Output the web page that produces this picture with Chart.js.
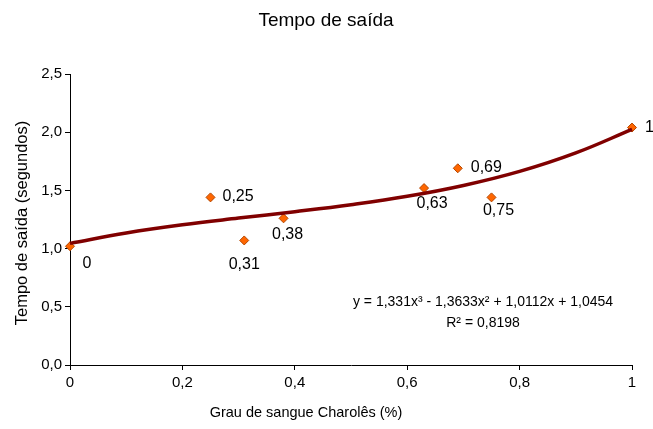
<!DOCTYPE html>
<html>
<head>
<meta charset="utf-8">
<script src="https://cdn.jsdelivr.net/npm/chart.js@4/dist/chart.umd.min.js"></script>
<style>
  html, body { margin: 0; padding: 0; background: #fff; }
  #wrap { width: 653px; height: 429px; }
</style>
</head>
<body>
<div id="wrap"><canvas id="chart"></canvas></div>
<script>
// observed points (grau de sangue vs tempo de saida)
var grau = [0, 0.25, 0.31, 0.38, 0.63, 0.69, 0.75, 1];
var tempo = [1.02, 1.44, 1.07, 1.26, 1.52, 1.69, 1.44, 2.04];
var pointLabels = ['0', '0,25', '0,31', '0,38', '0,63', '0,69', '0,75', '1'];

// trend line
var trendX = [0, 0.1, 0.2, 0.3, 0.4, 0.5, 0.6, 0.7, 0.8, 0.9, 1];
var trendY = [1.045, 1.134, 1.204, 1.262, 1.317, 1.377, 1.449, 1.542, 1.663, 1.822, 2.024];

var xTicks = [0, 0.2, 0.4, 0.6, 0.8, 1];
var yTicks = [0, 0.5, 1, 1.5, 2, 2.5];

var titleText = 'Tempo de saída';
var xTitle = 'Grau de sangue Charolês (%)';
var yTitle = 'Tempo de saída (segundos)';
var equation = 'y = 1,331x³ - 1,3633x² + 1,0112x + 1,0454';
var rSquared = 'R² = 0,8198';

var FONT = '"Liberation Sans", Arial, sans-serif';

// where each label sits next to its point: [dx, dy, align]
var labelPlace = [
    [17, 17, 'center'],
    [12, -1, 'left'],
    [0, 24, 'center'],
    [4, 16, 'center'],
    [8, 16, 'center'],
    [13, -1, 'left'],
    [7, 13, 'center'],
    [13, 0, 'left']
];

function fmt(v) {
    if (v == 0) return '0';
    if (v == 1) return '1';
    return v.toFixed(1).replace('.', ',');
}

var textPlugin = {
    id: 'texts',
    afterDraw: function(chart) {
        var ctx = chart.ctx;
        var meta = chart.getDatasetMeta(1);
        ctx.save();
        ctx.fillStyle = '#000';
        ctx.textBaseline = 'middle';

        // point labels
        ctx.font = '16px ' + FONT;
        for (let i = 0; i < meta.data.length; i++) {
            var p = meta.data[i];
            ctx.textAlign = labelPlace[i][2];
            ctx.fillText(pointLabels[i], p.x + labelPlace[i][0], p.y + labelPlace[i][1]);
        }

        // chart title
        ctx.textAlign = 'center';
        ctx.font = '19px ' + FONT;
        ctx.fillText(titleText, 326, 21);

        // axis titles
        ctx.font = '14.5px ' + FONT;
        ctx.fillText(xTitle, 306, 413);
        ctx.save();
        ctx.translate(22, 223);
        ctx.rotate(-Math.PI / 2);
        ctx.font = '16.5px ' + FONT;
        ctx.fillText(yTitle, 0, 0);
        ctx.restore();

        // equation
        ctx.font = '14px ' + FONT;
        ctx.fillText(equation, 483, 302);
        ctx.fillText(rSquared, 483, 323);
        ctx.restore();
    }
};

var trendData = [];
for (let i = 0; i < trendX.length; i++) {
    trendData.push({ x: trendX[i], y: trendY[i] });
}
var pointData = [];
for (let i = 0; i < grau.length; i++) {
    pointData.push({ x: grau[i], y: tempo[i] });
}

const div = document.getElementById('chart');
const config = {
    type: 'scatter',
    data: {
        datasets: [
            {
                data: trendData,
                showLine: true,
                borderColor: '#800000',
                borderWidth: 3.5,
                tension: 0.4,
                pointRadius: 0,
                fill: false,
                clip: false,
            },
            {
                data: pointData,
                pointStyle: 'rectRot',
                pointRadius: 4.5,
                backgroundColor: '#FF6600',
                borderColor: '#B34700',
                borderWidth: 1,
                clip: false,
            }
        ],
    },
    options: {
        responsive: true,
        maintainAspectRatio: false,
        animation: false,
        layout: { padding: { top: 74, right: 21, left: 0, bottom: 0 } },
        plugins: {
            legend: { display: false },
            tooltip: { enabled: false },
        },
        scales: {
            x: {
                type: 'linear',
                min: 0,
                max: 1,
                afterBuildTicks: function(axis) {
                    axis.ticks = xTicks.map(function(v) { return { value: v }; });
                },
                afterFit: function(axis) { axis.height = 64; },
                ticks: {
                    callback: function(v) { return fmt(v); },
                    color: '#000',
                    font: { family: FONT, size: 15 },
                    padding: 4,
                    maxRotation: 0,
                },
                grid: {
                    drawOnChartArea: false,
                    drawTicks: true,
                    tickLength: 5,
                    color: '#000',
                },
                border: { color: '#000', width: 1 },
            },
            y: {
                min: 0,
                max: 2.5,
                afterBuildTicks: function(axis) {
                    axis.ticks = yTicks.map(function(v) { return { value: v }; });
                },
                afterFit: function(axis) { axis.width = 70; },
                ticks: {
                    callback: function(v) { return v.toFixed(1).replace('.', ','); },
                    color: '#000',
                    font: { family: FONT, size: 15 },
                    padding: 3,
                },
                grid: {
                    drawOnChartArea: false,
                    drawTicks: true,
                    tickLength: 5,
                    color: '#000',
                },
                border: { color: '#000', width: 1 },
            }
        }
    },
    plugins: [textPlugin],
};

new Chart(div, config);
</script>
</body>
</html>
